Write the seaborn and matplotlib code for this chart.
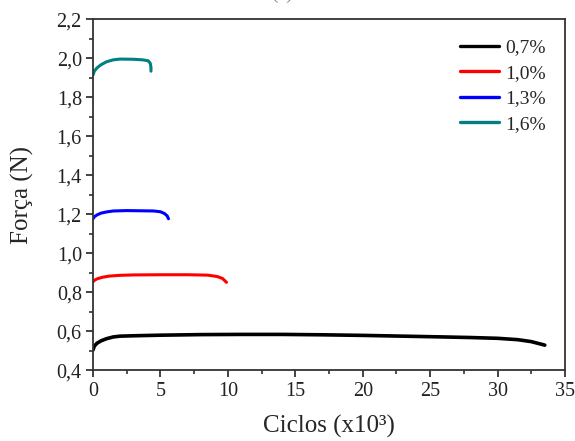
import pandas as pd
import matplotlib
matplotlib.use("Agg")
import matplotlib.pyplot as plt
import seaborn as sns
from matplotlib.ticker import MultipleLocator, FuncFormatter

# Curves (cycles in x10^3, force in N)
x_07 = [0, 0.1, 0.3, 0.6, 1.0, 1.5, 2.0, 3, 5, 8, 11, 14, 17, 20, 23, 26, 28, 30, 31.5, 32.5, 33.5]
y_07 = [0.505, 0.525, 0.540, 0.552, 0.563, 0.572, 0.576, 0.578, 0.581, 0.584, 0.585, 0.585,
        0.583, 0.580, 0.576, 0.572, 0.569, 0.565, 0.558, 0.548, 0.530]

x_10 = [0, 0.1, 0.3, 0.7, 1.2, 2, 3, 5, 7, 8.5, 9.2, 9.6, 9.9]
y_10 = [0.855, 0.862, 0.870, 0.878, 0.884, 0.888, 0.890, 0.891, 0.891, 0.889, 0.882, 0.872, 0.852]

x_13 = [0, 0.1, 0.3, 0.6, 1.0, 1.5, 2.5, 3.5, 4.5, 5.0, 5.3, 5.5, 5.6]
y_13 = [1.178, 1.188, 1.198, 1.207, 1.213, 1.218, 1.220, 1.219, 1.218, 1.214, 1.205, 1.193, 1.178]

x_16 = [0, 0.1, 0.3, 0.6, 1.0, 1.5, 2.0, 3.0, 3.7, 4.1, 4.25, 4.3, 4.3]
y_16 = [1.915, 1.935, 1.952, 1.968, 1.983, 1.993, 1.997, 1.996, 1.993, 1.988, 1.975, 1.955, 1.935]

labels = ["0,7%", "1,0%", "1,3%", "1,6%"]
colors = ["#000000", "#ff0000", "#0000ff", "#008080"]

frames = []
for lab, xs, ys in zip(labels, [x_07, x_10, x_13, x_16], [y_07, y_10, y_13, y_16]):
    frames.append(pd.DataFrame({"ciclos": xs, "forca": ys, "serie": lab}))
df = pd.concat(frames, ignore_index=True)

sns.set_style("ticks")
plt.rcParams["font.family"] = ["Liberation Serif", "DejaVu Serif"]

fig = plt.figure(figsize=(5.75, 4.41), dpi=100)
ax = fig.add_axes([0.1617, 0.1599, 0.8209, 0.7959])

sns.lineplot(data=df, x="ciclos", y="forca", hue="serie", palette=colors,
             estimator=None, sort=False, units="serie", linewidth=2.2, ax=ax)
ax.lines[0].set_linewidth(2.6)

ax.set_xlim(0, 35)
ax.set_ylim(0.4, 2.2)
ax.xaxis.set_major_locator(MultipleLocator(5))
ax.xaxis.set_minor_locator(MultipleLocator(2.5))
ax.yaxis.set_major_locator(MultipleLocator(0.2))
ax.yaxis.set_minor_locator(MultipleLocator(0.1))
ax.yaxis.set_major_formatter(FuncFormatter(lambda v, p: f"{v:.1f}".replace(".", ",")))
ax.xaxis.set_major_formatter(FuncFormatter(lambda v, p: f"{v:.0f}"))

ax.tick_params(axis="both", which="major", direction="out", length=5, width=1.2,
               labelsize=14.5, colors="#222222", pad=3)
ax.tick_params(axis="both", which="minor", direction="out", length=3, width=1.1, colors="#222222")
for s in ax.spines.values():
    s.set_visible(True)
    s.set_color("#333333")
    s.set_linewidth(1.3)

ax.set_xlabel("Ciclos (x10³)", fontsize=18, labelpad=10)
ax.set_ylabel("Força (N)", fontsize=18, labelpad=16)

leg = ax.legend(loc="upper right", frameon=False, fontsize=14, handlelength=2.0,
                labelspacing=0.4, handletextpad=0.3, borderaxespad=0.6, title=None)
for h in leg.legend_handles:
    h.set_linewidth(2.4)

fig.text(0.49, 1 - 3 / 441, "(a)", ha="center", va="bottom", fontsize=14, color="#888888")

fig.savefig("out.png", dpi=100)
